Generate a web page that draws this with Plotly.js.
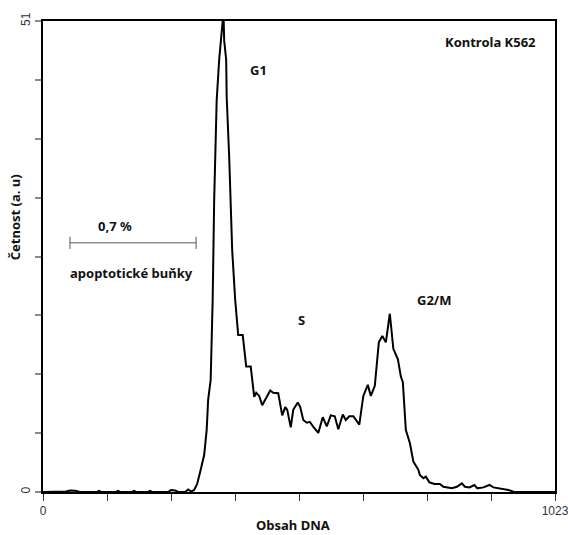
<!DOCTYPE html>
<html>
<head>
<meta charset="utf-8">
<script src="https://cdn.plot.ly/plotly-3.0.1.min.js"></script>
<style>html,body{margin:0;padding:0;background:#fff;}#chart{width:568px;height:535px;}</style>
</head>
<body>
<div id="chart"></div>
<script>
// DNA content channel (0–1023) and event count (a. u.)
var channel = [0,34,46,54,64,74,108,112,116,146,150,154,178,182,186,210,214,218,250,256,264,270,284,290,296,
  302,308,314,322,327,330,335,339,342,345,347,352,356,359,361,362,366,367,372,375,378,384,390,399,406,415,
  422,426,432,438,446,454,460,470,478,484,488,495,500,509,514,520,527,533,541,550,559,567,575,583,590,599,
  605,612,620,632,640,649,655,663,671,678,685,689,693,700,709,715,719,725,733,740,750,753,757,760,765,772,
  782,793,800,817,827,837,843,852,862,868,880,892,900,910,918,930,940,945,1023];
var counts = [0,0,0.05,0.16,0.14,0,0,0.11,0,0,0.11,0,0,0.11,0,0,0.11,0,0,0.22,0.16,0,0,0.27,0.05,
  0.22,0.87,2.17,4.0,6.7,10.0,12.1,20.8,31.6,37.0,42.4,46.8,48.9,51,51,48.9,46.8,42.8,36.3,31.6,26.2,20.8,17.0,17.0,13.6,13.6,
  10.3,10.75,10.4,9.4,10.2,11.0,10.75,10.7,8.3,9.2,8.9,7.0,8.9,9.7,9.2,7.8,7.5,7.6,7.0,6.4,8.1,7.1,8.3,8.2,6.8,8.4,
  7.8,8.2,8.2,7.3,10.4,11.6,10.4,11.5,16.2,16.9,16.2,17.9,19.3,15.5,14.4,12.5,11.9,6.7,5.3,3.3,2.4,1.84,1.6,1.5,1.66,1.05,
  0.87,0.87,0.57,0.4,0.57,0.94,0.57,0.5,0.76,0.4,0.5,0.76,0.5,0.4,0.4,0.22,0.03,0,0];

var xTickVals = [0,127.875,255.75,383.625,511.5,639.375,767.25,895.125,1023];
var xTickText = ['0','','','','','','','','1023'];
var yTickVals = [0,6.375,12.75,19.125,25.5,31.875,38.25,44.625,51];
var yTickText = ['0','','','','','','','','51'];

var annFont = {family:'"Noto Sans", "Open Sans", sans-serif', size:13, color:'#111'};
function ann(text, x, y, angle){
  return {text:'<b>'+text+'</b>', x:x, y:y, xref:'paper', yref:'paper', showarrow:false,
          textangle:angle||0, xanchor:'center', yanchor:'middle', font:annFont};
}

var trace = {x:channel, y:counts, type:'scatter', mode:'lines',
  line:{color:'#000', width:2}, hoverinfo:'skip'};

var tickFont = {family:'"Liberation Sans", Arial, sans-serif', size:12, color:'#333'};

var layout = {
  width:568, height:535,
  margin:{l:43, r:13, t:21, b:43, pad:0},
  paper_bgcolor:'#fff', plot_bgcolor:'#fff',
  showlegend:false,
  xaxis:{range:[0,1023], tickvals:xTickVals, ticktext:xTickText, ticks:'outside', ticklen:7, tickwidth:1,
    tickcolor:'#333', showgrid:false, zeroline:false, showline:true, linecolor:'#000', linewidth:2, mirror:true,
    ticklabeloverflow:'allow', tickfont:tickFont},
  yaxis:{range:[0,51], tickvals:yTickVals, ticktext:yTickText, ticks:'outside', ticklen:6, tickwidth:2,
    tickcolor:'#888', showgrid:false, zeroline:false, showline:true, linecolor:'#000', linewidth:2, mirror:true,
    tickangle:-90, ticklabeloverflow:'allow', tickfont:tickFont},
  annotations:[
    ann('Kontrola K562', 0.874, 0.955),
    ann('G1', 0.42, 0.896),
    ann('S', 0.504, 0.365),
    ann('G2/M', 0.764, 0.408),
    ann('0,7 %', 0.141, 0.565),
    ann('apoptotické buňky', 0.172, 0.465),
    ann('Obsah DNA', 0.489, -0.07),
    ann('Četnost (a. u)', -0.053, 0.583, -90)
  ],
  shapes:[
    {type:'line', xref:'paper', yref:'paper', x0:0.0527, x1:0.299, y0:0.529, y1:0.529, line:{color:'#555', width:1}},
    {type:'line', xref:'paper', yref:'paper', x0:0.0527, x1:0.0527, y0:0.516, y1:0.542, line:{color:'#555', width:1}},
    {type:'line', xref:'paper', yref:'paper', x0:0.299, x1:0.299, y0:0.516, y1:0.542, line:{color:'#555', width:1}}
  ]
};

Plotly.newPlot('chart', [trace], layout, {staticPlot:true, displayModeBar:false});
</script>
</body>
</html>
